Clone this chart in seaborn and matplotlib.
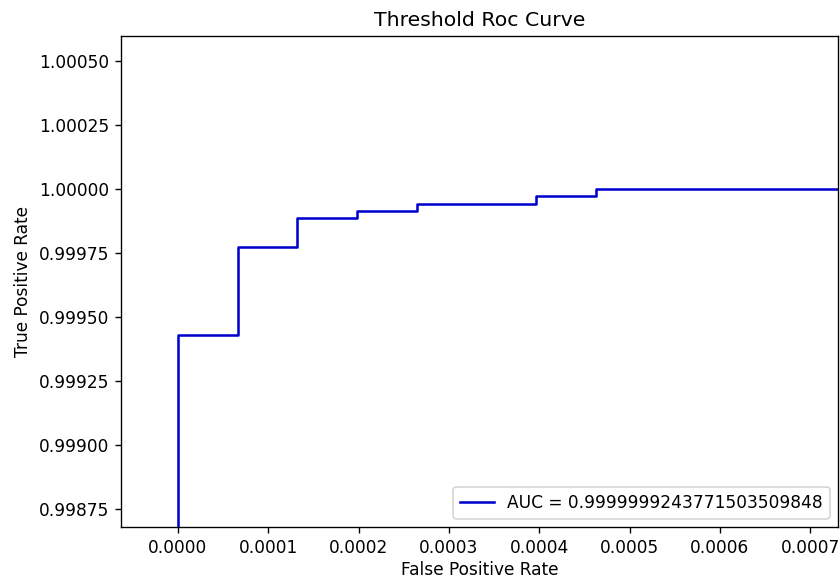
import numpy as np
import pandas as pd
import matplotlib
matplotlib.use("Agg")
import matplotlib.pyplot as plt
import seaborn as sns

# ROC points (step corners)
fpr = [0.0, 0.0, 0.0000661, 0.0000661, 0.0001322, 0.0001322, 0.0001983, 0.0001983,
       0.0002644, 0.0002644, 0.0003966, 0.0003966, 0.0004627, 0.0004627, 1.0]
tpr = [0.0, 0.999431, 0.999431, 0.999773, 0.999773, 0.999886, 0.999886, 0.999915,
       0.999915, 0.999943, 0.999943, 0.999972, 0.999972, 1.0, 1.0]
auc_label = "AUC = 0.9999999243771503509848"

X_LIM = (-0.0000631, 0.000731)
Y_LIM = (0.998680, 1.000598)

df = pd.DataFrame({"fpr": fpr, "tpr": tpr})

fig = plt.figure(figsize=(840 / 122, 578 / 122), dpi=122)
ax = fig.add_axes([0.144, 0.088, 0.854, 0.850])

sns.lineplot(data=df, x="fpr", y="tpr", sort=False, estimator=None,
             color="mediumblue", label=auc_label, ax=ax)

ax.set_xlim(*X_LIM)
ax.set_ylim(*Y_LIM)
ax.set_xticks([0.0, 0.0001, 0.0002, 0.0003, 0.0004, 0.0005, 0.0006, 0.0007])
ax.set_yticks([0.99875, 0.99900, 0.99925, 0.99950, 0.99975, 1.00000, 1.00025, 1.00050])
ax.xaxis.set_major_formatter(matplotlib.ticker.FormatStrFormatter("%.4f"))
ax.yaxis.set_major_formatter(matplotlib.ticker.FormatStrFormatter("%.5f"))
ax.set_title("Threshold Roc Curve")
ax.set_xlabel("False Positive Rate", labelpad=2.5)
ax.set_ylabel("True Positive Rate")
ax.legend(loc="lower right")

fig.savefig("out.png", dpi=122)
